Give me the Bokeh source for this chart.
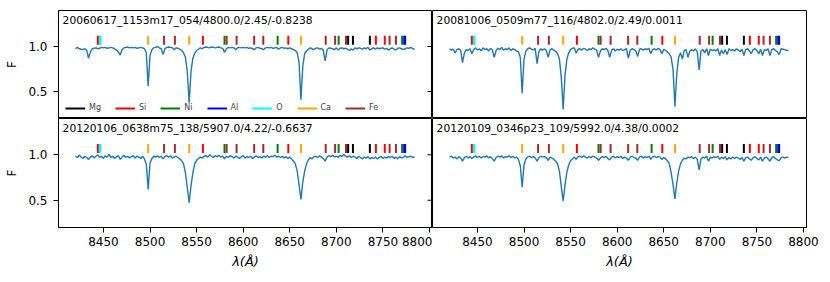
import numpy as np
from bokeh.plotting import figure
from bokeh.layouts import gridplot
from bokeh.models import Range1d, Label, Legend, LegendItem, FixedTicker, PrintfTickFormatter
from bokeh.embed import file_html
from bokeh.resources import INLINE

# ---------------- data ----------------
WAVE = np.arange(8420.0, 8785.0, 2.0)   # common wavelength grid (Angstrom)

FLUX_1 = [  # 20060617_1153m17_054
    0.975, 0.99, 0.975, 0.97, 0.965, 0.975, 0.96, 0.87, 0.94, 0.975,      # 8420
    0.98, 0.985, 0.975, 0.98, 0.99, 0.985, 0.99, 0.98, 0.985, 0.99,       # 8440
    0.985, 0.975, 0.96, 0.94, 0.905, 0.965, 0.985, 0.99, 0.995, 0.985,    # 8460
    0.99, 0.985, 0.99, 0.98, 0.985, 0.99, 0.985, 0.975, 0.93, 0.56,       # 8480
    0.9, 0.965, 0.985, 0.99, 1.0, 0.985, 0.975, 0.91, 0.975, 0.99,        # 8500
    0.995, 0.99, 0.985, 0.965, 0.985, 0.98, 0.97, 0.955, 0.93, 0.88,      # 8520
    0.72, 0.375, 0.72, 0.87, 0.925, 0.955, 0.97, 0.985, 0.975, 0.99,      # 8540
    0.995, 0.99, 0.985, 0.995, 0.99, 0.985, 0.99, 0.995, 0.985, 0.98,     # 8560
    0.935, 0.975, 0.99, 0.985, 0.99, 0.985, 0.965, 0.985, 0.99, 0.985,    # 8580
    0.99, 0.985, 0.99, 0.98, 0.985, 0.975, 0.965, 0.985, 0.99, 0.98,      # 8600
    0.975, 0.965, 0.985, 0.99, 0.985, 0.99, 0.98, 0.985, 0.99, 0.97,      # 8620
    0.985, 0.99, 0.98, 0.985, 0.975, 0.985, 0.975, 0.965, 0.955, 0.93,    # 8640
    0.82, 0.41, 0.78, 0.92, 0.95, 0.97, 0.985, 0.975, 0.965, 0.98,        # 8660
    0.985, 0.97, 0.98, 0.955, 0.84, 0.96, 0.985, 0.98, 0.975, 0.965,      # 8680
    0.985, 0.96, 0.98, 0.985, 0.975, 0.98, 0.97, 0.955, 0.975, 0.96,      # 8700
    0.985, 0.975, 0.985, 0.98, 0.97, 0.985, 0.975, 0.99, 0.96, 0.975,     # 8720
    0.985, 0.97, 0.985, 0.975, 0.98, 0.985, 0.97, 0.98, 0.96, 0.975,      # 8740
    0.985, 0.97, 0.96, 0.98, 0.985, 0.975, 0.965, 0.975, 0.985, 0.98,     # 8760
    0.99, 0.975, 0.97,                                                    # 8780
]

FLUX_2 = [  # 20081006_0509m77_116
    0.975, 0.96, 0.97, 0.93, 0.965, 0.975, 0.955, 0.82, 0.93, 0.965,      # 8420
    0.955, 0.975, 0.92, 0.965, 0.985, 0.96, 0.975, 0.95, 0.985, 0.965,    # 8440
    0.975, 0.95, 0.98, 0.96, 0.88, 0.955, 0.98, 0.965, 0.99, 0.96,        # 8460
    0.975, 0.965, 0.985, 0.955, 0.975, 0.965, 0.95, 0.94, 0.88, 0.48,     # 8480
    0.86, 0.95, 0.975, 0.985, 0.97, 0.96, 0.98, 0.81, 0.945, 0.975,       # 8500
    0.96, 0.975, 0.955, 0.88, 0.965, 0.975, 0.96, 0.945, 0.92, 0.86,      # 8520
    0.66, 0.30, 0.68, 0.86, 0.93, 0.965, 0.98, 0.985, 0.925, 0.97,        # 8540
    0.975, 0.96, 0.98, 0.97, 0.955, 0.975, 0.965, 0.985, 0.97, 0.96,      # 8560
    0.88, 0.95, 0.975, 0.965, 0.98, 0.955, 0.88, 0.96, 0.975, 0.95,       # 8580
    0.97, 0.96, 0.975, 0.955, 0.965, 0.975, 0.87, 0.96, 0.975, 0.965,     # 8600
    0.95, 0.89, 0.97, 0.975, 0.96, 0.975, 0.965, 0.98, 0.92, 0.965,       # 8620
    0.975, 0.96, 0.98, 0.965, 0.92, 0.97, 0.955, 0.94, 0.92, 0.88,        # 8640
    0.74, 0.33, 0.70, 0.88, 0.93, 0.86, 0.955, 0.965, 0.88, 0.95,         # 8660
    0.965, 0.95, 0.975, 0.94, 0.74, 0.95, 0.965, 0.93, 0.975, 0.90,       # 8680
    0.97, 0.955, 0.965, 0.95, 0.975, 0.90, 0.96, 0.92, 0.965, 0.91,       # 8700
    0.975, 0.955, 0.965, 0.95, 0.975, 0.96, 0.945, 0.97, 0.90, 0.965,     # 8720
    0.975, 0.95, 0.92, 0.965, 0.975, 0.955, 0.92, 0.97, 0.90, 0.965,      # 8740
    0.955, 0.975, 0.90, 0.965, 0.975, 0.955, 0.94, 0.91, 0.975, 0.97,     # 8760
    0.965, 0.955, 0.96,                                                   # 8780
]

FLUX_3 = [  # 20120106_0638m75_138
    0.985, 0.97, 0.995, 0.975, 0.96, 0.985, 0.97, 0.95, 0.975, 0.99,      # 8420
    0.965, 0.985, 1.0, 0.97, 0.985, 0.96, 0.99, 0.975, 1.005, 0.97,       # 8440
    0.985, 0.96, 0.98, 0.99, 0.95, 0.975, 0.995, 0.97, 0.985, 0.965,      # 8460
    0.98, 0.99, 0.965, 0.985, 0.975, 0.96, 0.985, 0.955, 0.9, 0.62,       # 8480
    0.91, 0.96, 0.985, 0.975, 0.99, 0.97, 0.985, 0.955, 0.98, 0.99,       # 8500
    0.975, 0.99, 0.965, 0.975, 0.985, 0.97, 0.955, 0.935, 0.9, 0.8,       # 8520
    0.64, 0.47, 0.66, 0.8, 0.9, 0.94, 0.96, 0.975, 0.965, 0.985,          # 8540
    0.99, 0.975, 1.0, 0.985, 0.97, 0.99, 0.98, 0.995, 0.975, 0.985,       # 8560
    0.955, 0.985, 0.97, 0.99, 0.98, 0.965, 0.985, 0.975, 0.96, 0.98,      # 8580
    0.99, 0.965, 0.98, 0.97, 0.985, 0.96, 0.975, 0.99, 0.97, 0.98,        # 8600
    0.965, 0.985, 0.975, 0.99, 0.97, 0.985, 0.98, 0.995, 0.975, 0.985,    # 8620
    0.97, 0.985, 0.965, 0.98, 0.96, 0.975, 0.955, 0.93, 0.9, 0.82,        # 8640
    0.67, 0.51, 0.7, 0.82, 0.9, 0.945, 0.97, 0.955, 0.98, 0.985,          # 8660
    0.97, 0.99, 0.975, 0.96, 0.93, 0.975, 0.99, 0.98, 0.995, 0.975,       # 8680
    0.985, 0.97, 0.995, 0.98, 1.005, 0.985, 0.975, 0.99, 0.97, 0.985,     # 8700
    0.975, 0.96, 0.985, 0.97, 0.955, 0.975, 0.965, 0.98, 0.955, 0.97,     # 8720
    0.96, 0.975, 0.955, 0.97, 0.985, 0.96, 0.975, 0.965, 0.98, 0.97,      # 8740
    0.985, 0.96, 0.975, 0.955, 0.98, 0.965, 0.975, 0.99, 0.97, 0.98,      # 8760
    0.985, 0.97, 0.98,                                                    # 8780
]

FLUX_4 = [  # 20120109_0346p23_109
    0.975, 0.985, 0.965, 0.975, 0.955, 0.98, 0.965, 0.93, 0.97, 0.985,    # 8420
    0.965, 0.98, 0.96, 0.975, 0.99, 0.97, 0.985, 0.965, 0.98, 0.975,      # 8440
    0.99, 0.965, 0.98, 0.96, 0.93, 0.97, 0.985, 0.975, 0.99, 0.965,       # 8460
    0.98, 0.975, 0.99, 0.97, 0.985, 0.965, 0.975, 0.95, 0.88, 0.645,      # 8480
    0.89, 0.955, 0.975, 0.985, 0.97, 0.98, 0.965, 0.93, 0.97, 0.985,      # 8500
    0.975, 0.98, 0.965, 0.94, 0.975, 0.965, 0.95, 0.93, 0.9, 0.82,        # 8520
    0.65, 0.49, 0.67, 0.81, 0.89, 0.935, 0.955, 0.975, 0.95, 0.98,        # 8540
    0.985, 0.97, 0.99, 0.975, 0.965, 0.98, 0.97, 0.985, 0.975, 0.965,     # 8560
    0.94, 0.965, 0.98, 0.97, 0.985, 0.96, 0.945, 0.975, 0.985, 0.965,     # 8580
    0.98, 0.97, 0.985, 0.96, 0.975, 0.965, 0.94, 0.975, 0.985, 0.97,      # 8600
    0.965, 0.94, 0.975, 0.985, 0.965, 0.98, 0.97, 0.985, 0.95, 0.975,     # 8620
    0.985, 0.97, 0.98, 0.975, 0.95, 0.97, 0.955, 0.935, 0.9, 0.8,         # 8640
    0.67, 0.515, 0.69, 0.82, 0.9, 0.94, 0.965, 0.955, 0.975, 0.97,        # 8660
    0.98, 0.96, 0.975, 0.95, 0.835, 0.955, 0.975, 0.965, 0.985, 0.93,     # 8680
    0.975, 0.965, 0.98, 0.97, 0.985, 0.95, 0.975, 0.96, 0.98, 0.945,      # 8700
    0.97, 0.955, 0.975, 0.96, 0.975, 0.965, 0.95, 0.97, 0.93, 0.97,       # 8720
    0.975, 0.955, 0.94, 0.97, 0.98, 0.96, 0.945, 0.975, 0.93, 0.965,      # 8740
    0.975, 0.955, 0.93, 0.97, 0.98, 0.96, 0.945, 0.935, 0.97, 0.975,      # 8760
    0.965, 0.975, 0.97,                                                   # 8780
]

TITLES = [
    "20060617_1153m17_054/4800.0/2.45/-0.8238",
    "20081006_0509m77_116/4802.0/2.49/0.0011",
    "20120106_0638m75_138/5907.0/4.22/-0.6637",
    "20120109_0346p23_109/5992.0/4.38/0.0002",
]

# line lists (Angstrom)
MG_LINES = [8712.69, 8717.83, 8736.02]
SI_LINES = [8443.97, 8556.78, 8648.47, 8742.45, 8752.01]
NI_LINES = [8579.98, 8636.99, 8702.49, 8770.67]
AL_LINES = [8772.87, 8773.90]
O_LINES = [8446.25, 8446.76]
CA_LINES = [8498.02, 8542.09, 8662.14]
FE_LINES = [8515.11, 8526.67, 8582.26, 8592.95, 8611.80, 8621.60,
            8688.62, 8698.71, 8710.39, 8757.19, 8763.97]

ELEMENTS = ["Mg", "Si", "Ni", "Al", "O", "Ca", "Fe"]
ELEMENT_LINES = [MG_LINES, SI_LINES, NI_LINES, AL_LINES, O_LINES, CA_LINES, FE_LINES]
ELEMENT_COLORS = ["#000000", "#ff0000", "#008000", "#0000ff", "#00ffff", "#ffa500", "#a52a2a"]

XTICKS = [8450, 8500, 8550, 8600, 8650, 8700, 8750, 8800]
YTICKS = [0.5, 1.0]

X_START, X_END = 8401.75, 8803.25
Y_START, Y_END = 0.2, 1.4
MARK_LO, MARK_HI = 1.02, 1.12

assert len(FLUX_1) == len(WAVE) == len(FLUX_2) == len(FLUX_3) == len(FLUX_4)

# ---------------- plot ----------------
FONT = "DejaVu Sans"
xr = Range1d(X_START, X_END)
yr = Range1d(Y_START, Y_END)

FRAME_W = 374
TICK_PX = 5


def make_panel(flux, title, row, col, with_legend=False):
    left = col == 0
    bottom = row == 1
    frame_h = 108 if row == 0 else 109
    bl = 58 if left else 0
    br = 0 if left else 20
    bt = 10 if row == 0 else 0
    bb = 48 if bottom else 0
    p = figure(width=FRAME_W + bl + br, height=frame_h + bt + bb,
               x_range=xr, y_range=yr,
               output_backend="svg", toolbar_location=None,
               x_axis_location="below" if bottom else None,
               y_axis_location="left" if left else None,
               min_border_left=bl, min_border_right=br,
               min_border_top=bt, min_border_bottom=bb)
    p.grid.visible = False
    p.outline_line_color = "black"
    p.outline_line_width = 1
    p.outline_line_alpha = 1
    p.background_fill_color = "white"
    p.border_fill_color = "white"

    if bottom:
        ax = p.xaxis[0]
        ax.ticker = FixedTicker(ticks=XTICKS)
        ax.axis_label = "λ(Å)"
        ax.axis_label_text_font = FONT
        ax.axis_label_text_font_style = "italic"
        ax.axis_label_text_font_size = "13px"
        ax.axis_label_standoff = 5
        ax.major_label_standoff = 4
    if left:
        ay = p.yaxis[0]
        ay.ticker = FixedTicker(ticks=YTICKS)
        ay.formatter = PrintfTickFormatter(format="%.1f")
        ay.axis_label = "F"
        ay.axis_label_text_font = FONT
        ay.axis_label_text_font_style = "normal"
        ay.axis_label_text_font_size = "12px"
        ay.axis_label_standoff = 6
        ay.major_label_standoff = 6
        # tick marks of the neighbouring (shared) y-axis, pointing into this panel
        tick_len = TICK_PX * (X_END - X_START) / FRAME_W
        p.segment(x0=[X_END - tick_len] * len(YTICKS), y0=YTICKS,
                  x1=[X_END] * len(YTICKS), y1=YTICKS,
                  line_color="black", line_width=1)

    for a in list(p.xaxis) + list(p.yaxis):
        a.axis_line_color = "black"
        a.major_tick_line_color = "black"
        a.minor_tick_line_color = None
        a.major_tick_out = TICK_PX
        a.major_tick_in = 0
        a.major_label_text_font = FONT
        a.major_label_text_font_size = "12px"
        a.major_label_text_color = "black"
        a.axis_label_text_color = "black"

    p.line(WAVE, flux, line_color="#1f77b4", line_width=1.4)

    items = []
    for name, wls, colr in zip(ELEMENTS, ELEMENT_LINES, ELEMENT_COLORS):
        r = p.segment(x0=wls, y0=[MARK_LO] * len(wls), x1=wls, y1=[MARK_HI] * len(wls),
                      line_color=colr, line_width=2)
        items.append(LegendItem(label=name, renderers=[r]))

    p.add_layout(Label(x=X_START + 0.011 * (X_END - X_START),
                       y=Y_END - 0.09 * (Y_END - Y_START),
                       text=title, text_font=FONT, text_font_size="10.7px",
                       text_baseline="middle", text_align="left", text_color="black"))

    if with_legend:
        leg = Legend(items=items, location=(7, 6), orientation="horizontal",
                     glyph_width=20, glyph_height=8, label_text_font=FONT,
                     label_text_font_size="8px", label_standoff=4, spacing=14,
                     padding=0, margin=0, border_line_color=None,
                     background_fill_alpha=0, label_height=8, label_width=0)
        p.add_layout(leg)
    return p


p1 = make_panel(FLUX_1, TITLES[0], 0, 0, with_legend=True)
p2 = make_panel(FLUX_2, TITLES[1], 0, 1)
p3 = make_panel(FLUX_3, TITLES[2], 1, 0)
p4 = make_panel(FLUX_4, TITLES[3], 1, 1)

grid = gridplot([[p1, p2], [p3, p4]], toolbar_location=None)

with open("out.html", "w") as f:
    f.write(file_html(grid, INLINE))
